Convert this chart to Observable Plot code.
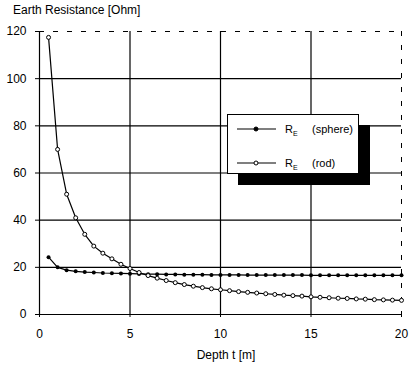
<!DOCTYPE html>
<html>
<head>
<meta charset="utf-8">
<script src="https://cdn.jsdelivr.net/npm/d3@7"></script>
<script src="https://cdn.jsdelivr.net/npm/@observablehq/plot@0.6"></script>
<style>
  html, body { margin: 0; padding: 0; background: #fff; }
  #wrap { position: relative; width: 415px; height: 370px; font-family: "Liberation Sans", Arial, sans-serif; color: #000; overflow: hidden; }
  #title { position: absolute; left: 13px; top: 0; height: 20px; line-height: 20px; font-size: 12px; }
  #chart { position: absolute; left: 0; top: 20px; }
  #xlabel { position: absolute; left: 186px; width: 80px; top: 347px; line-height: 16px; font-size: 12px; text-align: center; }
  #legend { position: absolute; left: 227px; top: 114px; width: 130px; height: 58px; background: #fff; border: 1px solid #000; box-shadow: 11px 11px 0 #000; font-size: 11px; }
  .entry { position: absolute; left: 8px; height: 14px; width: 125px; }
  .entry svg { position: absolute; left: 0; top: 0; }
  .entry .nm { position: absolute; left: 49px; top: 0; line-height: 14px; }
  .entry .nm sub { font-size: 7px; vertical-align: -3px; }
  .entry .ds { position: absolute; left: 76px; top: 0; line-height: 14px; }
</style>
</head>
<body>
<div id="wrap">
  <div id="title">Earth Resistance [Ohm]</div>
  <div id="chart"></div>
  <div id="xlabel">Depth t [m]</div>
  <div id="legend"></div>
</div>
<script>
// Data
const depth = [0.5,1,1.5,2,2.5,3,3.5,4,4.5,5,5.5,6,6.5,7,7.5,8,8.5,9,9.5,10,
               10.5,11,11.5,12,12.5,13,13.5,14,14.5,15,15.5,16,16.5,17,17.5,18,18.5,19,19.5,20];
const sphere = [24.3,20.0,18.8,18.3,18.0,17.8,17.6,17.5,17.4,17.3,17.2,17.1,17.1,17.0,17.0,16.9,16.9,16.9,16.8,16.8,
                16.8,16.8,16.7,16.7,16.7,16.7,16.7,16.7,16.7,16.6,16.6,16.6,16.6,16.6,16.6,16.6,16.6,16.6,16.6,16.6];
const rod = [117.5,70,51,41,34,29,26,23.6,21.3,19.5,17.8,16.5,15.4,14.4,13.5,12.7,12.0,11.4,10.9,10.5,
             10.1,9.7,9.4,9.1,8.8,8.5,8.2,8.0,7.8,7.5,7.3,7.1,6.9,6.8,6.6,6.5,6.3,6.2,6.1,6.0];
const seriesNames = ["R", "R"];
const seriesSubs = ["E", "E"];
const seriesDesc = ["(sphere)", "(rod)"];
const xTicks = [0,5,10,15,20];
const yTicks = [0,20,40,60,80,100,120];

const data = depth.map((t, i) => ({t, sphere: sphere[i], rod: rod[i]}));

const chart = Plot.plot({
  width: 415,
  height: 324,
  marginLeft: 39,
  marginRight: 14,
  marginTop: 11,
  marginBottom: 30,
  style: {fontFamily: "Liberation Sans, Arial, sans-serif", fontSize: "12px", background: "white", color: "black"},
  x: {domain: [0, 20]},
  y: {domain: [0, 120]},
  marks: [
    Plot.ruleY(yTicks.slice(1, -1), {stroke: "black", strokeWidth: 1.2}),
    Plot.ruleY([yTicks[yTicks.length - 1]], {stroke: "black", strokeDasharray: "5,9"}),
    Plot.ruleX(xTicks.slice(1, -1), {stroke: "black", strokeWidth: 1.2}),
    Plot.ruleX([xTicks[xTicks.length - 1]], {stroke: "black", strokeDasharray: "5,9"}),
    Plot.ruleY([0], {stroke: "black", strokeWidth: 1.2}),
    Plot.ruleX([0], {stroke: "black", strokeWidth: 1.2}),
    Plot.axisX({ticks: xTicks, tickSize: 3, tickPadding: 12, label: null}),
    Plot.axisY({ticks: yTicks, tickSize: 4, tickPadding: 9, label: null}),
    Plot.line(data, {x: "t", y: "sphere", stroke: "black", strokeWidth: 1.2}),
    Plot.dot(data, {x: "t", y: "sphere", r: 2, fill: "black"}),
    Plot.line(data, {x: "t", y: "rod", stroke: "black", strokeWidth: 1.2}),
    Plot.dot(data, {x: "t", y: "rod", r: 2, fill: "white", stroke: "black", strokeWidth: 1})
  ]
});
document.getElementById("chart").appendChild(chart);

// Legend
const legend = document.getElementById("legend");
const tops = [7, 41];
seriesNames.forEach((n, i) => {
  const e = document.createElement("div");
  e.className = "entry";
  e.style.top = tops[i] + "px";
  const filled = i === 0;
  e.innerHTML = `<svg width="42" height="14"><line x1="1" x2="40" y1="7" y2="7" stroke="black" stroke-width="1.2"/>` +
    `<circle cx="20" cy="7" r="2" fill="${filled ? "black" : "white"}" stroke="black" stroke-width="1"/></svg>` +
    `<span class="nm">${n}<sub>${seriesSubs[i]}</sub></span><span class="ds">${seriesDesc[i]}</span>`;
  legend.appendChild(e);
});
</script>
</body>
</html>
